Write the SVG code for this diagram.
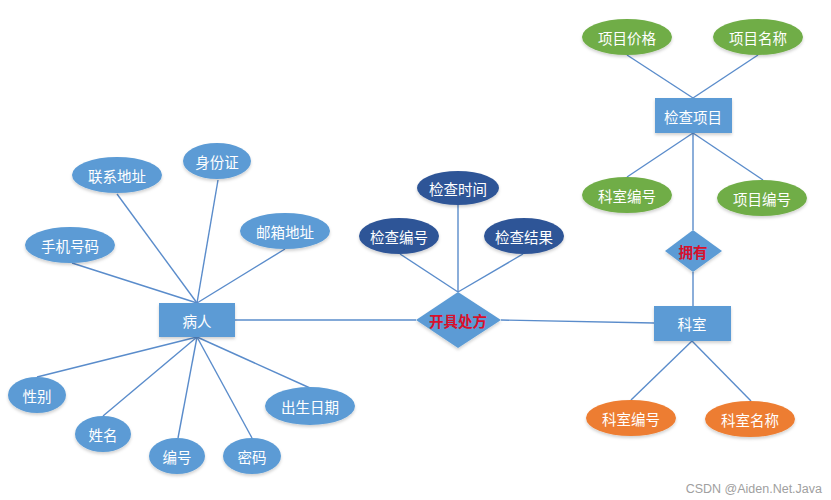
<svg xmlns="http://www.w3.org/2000/svg" width="831" height="500" viewBox="0 0 831 500">
<defs>
<filter id="sh" x="-20%" y="-20%" width="140%" height="150%">
<feDropShadow dx="0" dy="2" stdDeviation="1.5" flood-color="#000" flood-opacity="0.18"/>
</filter>
</defs>
<style>
.e{stroke:none;filter:url(#sh)}
.blue{fill:#5b9bd5}
.navy{fill:#2f5597}
.green{fill:#70ad47}
.orange{fill:#ed7d31}
.t{font-family:"Noto Sans CJK SC","Liberation Sans",sans-serif;font-size:14.5px;fill:#fff;text-anchor:middle;dominant-baseline:central}
.r{fill:#d8102c;font-weight:bold}
.c line{stroke:#5a8ccb;stroke-width:1.4}
</style>
<rect width="831" height="500" fill="#fff"/>
<g class="c" id="connectors">
<line x1="72" y1="263" x2="197" y2="303"/>
<line x1="117" y1="194" x2="197" y2="303"/>
<line x1="218" y1="180" x2="197" y2="303"/>
<line x1="285" y1="249" x2="197" y2="303"/>
<line x1="37" y1="377" x2="197" y2="337"/>
<line x1="103" y1="416" x2="197" y2="337"/>
<line x1="178" y1="438" x2="197" y2="337"/>
<line x1="252" y1="438" x2="197" y2="337"/>
<line x1="310" y1="388" x2="197" y2="337"/>
<line x1="235" y1="320" x2="416" y2="320"/>
<line x1="501" y1="320" x2="654" y2="323"/>
<line x1="400" y1="254" x2="458" y2="292"/>
<line x1="458" y1="205" x2="458" y2="292"/>
<line x1="523" y1="254" x2="458" y2="292"/>
<line x1="627" y1="55" x2="693" y2="98"/>
<line x1="758" y1="55" x2="693" y2="98"/>
<line x1="693" y1="133" x2="627" y2="177"/>
<line x1="693" y1="133" x2="763" y2="180"/>
<line x1="693" y1="133" x2="693" y2="230"/>
<line x1="693" y1="272" x2="693" y2="306"/>
<line x1="692" y1="341" x2="631" y2="400"/>
<line x1="692" y1="341" x2="751" y2="401"/>
</g>
<g id="patient"><rect x="159" y="303" width="76" height="34" class="blue e"/><text x="197" y="320" class="t">病人</text></g>
<g id="phone"><ellipse cx="70" cy="245" rx="45" ry="18" class="blue e"/><text x="70" y="245" class="t">手机号码</text></g>
<g id="address"><ellipse cx="117" cy="175" rx="45" ry="18" class="blue e"/><text x="117" y="175" class="t">联系地址</text></g>
<g id="idcard"><ellipse cx="217" cy="161" rx="34" ry="18" class="blue e"/><text x="217" y="161" class="t">身份证</text></g>
<g id="email"><ellipse cx="285" cy="231" rx="45" ry="18" class="blue e"/><text x="285" y="231" class="t">邮箱地址</text></g>
<g id="gender"><ellipse cx="37" cy="395" rx="29" ry="18" class="blue e"/><text x="37" y="395" class="t">性别</text></g>
<g id="name"><ellipse cx="103" cy="434" rx="28" ry="18" class="blue e"/><text x="103" y="434" class="t">姓名</text></g>
<g id="pid"><ellipse cx="177" cy="456" rx="28" ry="18" class="blue e"/><text x="177" y="456" class="t">编号</text></g>
<g id="pwd"><ellipse cx="252" cy="456" rx="29" ry="18" class="blue e"/><text x="252" y="456" class="t">密码</text></g>
<g id="birth"><ellipse cx="310" cy="406" rx="45" ry="19" class="blue e"/><text x="310" y="406" class="t">出生日期</text></g>
<g id="prescribe"><polygon points="416,320 458,292 501,320 458,348" class="blue e"/><text x="458" y="320" class="t r">开具处方</text></g>
<g id="checkno"><ellipse cx="399" cy="236" rx="40" ry="18" class="navy e"/><text x="399" y="236" class="t">检查编号</text></g>
<g id="checktime"><ellipse cx="458" cy="188" rx="41" ry="17" class="navy e"/><text x="458" y="188" class="t">检查时间</text></g>
<g id="checkres"><ellipse cx="524" cy="236" rx="40" ry="18" class="navy e"/><text x="524" y="236" class="t">检查结果</text></g>
<g id="item"><rect x="655" y="98" width="77" height="35" class="blue e"/><text x="693" y="116" class="t">检查项目</text></g>
<g id="price"><ellipse cx="627" cy="37" rx="45" ry="18" class="green e"/><text x="627" y="37" class="t">项目价格</text></g>
<g id="itemname"><ellipse cx="758" cy="37" rx="45" ry="18" class="green e"/><text x="758" y="37" class="t">项目名称</text></g>
<g id="deptno1"><ellipse cx="627" cy="195" rx="45" ry="18" class="green e"/><text x="627" y="195" class="t">科室编号</text></g>
<g id="itemno"><ellipse cx="762" cy="198" rx="45" ry="18" class="green e"/><text x="762" y="198" class="t">项目编号</text></g>
<g id="own"><polygon points="665,251 693,230 722,251 693,272" class="blue e"/><text x="693" y="251" class="t r">拥有</text></g>
<g id="dept"><rect x="654" y="306" width="77" height="35" class="blue e"/><text x="692" y="323" class="t">科室</text></g>
<g id="deptno2"><ellipse cx="631" cy="418" rx="45" ry="18" class="orange e"/><text x="631" y="418" class="t">科室编号</text></g>
<g id="deptname"><ellipse cx="750" cy="419" rx="45" ry="18" class="orange e"/><text x="750" y="419" class="t">科室名称</text></g>
<text x="822" y="493" font-family="Liberation Sans,sans-serif" font-size="12.5" fill="#a0a0a0" text-anchor="end">CSDN @Aiden.Net.Java</text>
</svg>
